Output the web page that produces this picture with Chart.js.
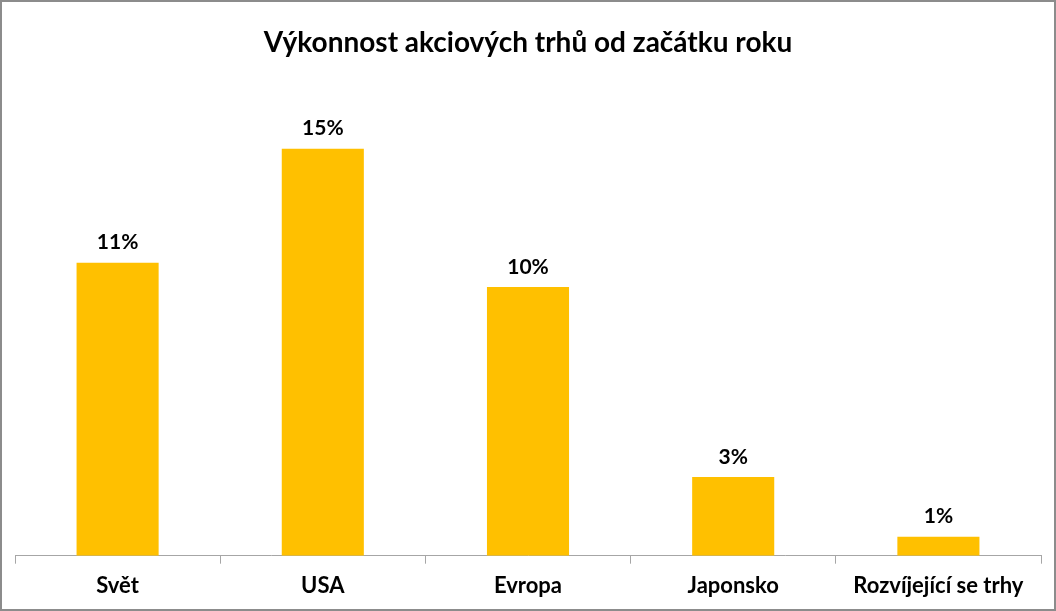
<!DOCTYPE html>
<html>
<head>
<meta charset="utf-8">
<script src="https://cdn.jsdelivr.net/npm/chart.js@4"></script>
<style>
    body { margin: 0; background: #fff; }
    #wrap {
        position: absolute; left: 0; top: 0;
        width: 1056px; height: 611px;
        box-sizing: border-box;
        border: 2px solid #8c8c8c;
        background: #fff;
    }
    #chart { display: block; }
</style>
</head>
<body>
<div id="wrap"><canvas id="chart" width="1052" height="607"></canvas></div>
<script>
const categories = ['Svět', 'USA', 'Evropa', 'Japonsko', 'Rozvíjející se trhy'];
const performance = [10.8, 15.0, 9.9, 2.9, 0.7];
const valueLabels = ['11%', '15%', '10%', '3%', '1%'];

const FONT = 'Lato, "Open Sans", "DejaVu Sans", sans-serif';

// popisky hodnot nad sloupci
const barLabels = {
    id: 'barLabels',
    afterDatasetsDraw(chart) {
        const ctx = chart.ctx;
        const meta = chart.getDatasetMeta(0);
        ctx.save();
        ctx.font = 'bold 21px ' + FONT;
        ctx.fillStyle = '#000';
        ctx.textAlign = 'center';
        ctx.textBaseline = 'middle';
        meta.data.forEach((bar, i) => {
            ctx.fillText(valueLabels[i], bar.x, bar.y - 20);
        });
        ctx.restore();
    }
};

new Chart(document.getElementById('chart').getContext('2d'), {
    type: 'bar',
    data: {
        labels: categories,
        datasets: [{
            data: performance,
            backgroundColor: '#FFC000',
            borderWidth: 0,
            categoryPercentage: 1,
            barPercentage: 0.4
        }]
    },
    options: {
        responsive: false,
        animation: false,
        layout: { padding: { left: 13, right: 13, top: 0, bottom: 0 } },
        plugins: {
            legend: { display: false },
            tooltip: { enabled: false },
            title: {
                display: true,
                text: 'Výkonnost akciových trhů od začátku roku',
                color: '#000',
                font: { family: FONT, size: 28, weight: 'bold' },
                padding: { top: 24, bottom: 62 }
            }
        },
        scales: {
            x: {
                offset: true,
                grid: {
                    offset: true,
                    drawOnChartArea: false,
                    tickLength: 8,
                    color: '#a6a6a6'
                },
                border: { color: '#a6a6a6', width: 1 },
                ticks: {
                    color: '#000',
                    padding: 10,
                    font: { family: FONT, size: 22, weight: 'bold', lineHeight: 1.15 }
                }
            },
            y: {
                display: false,
                min: 0,
                max: 16
            }
        }
    },
    plugins: [barLabels]
});
</script>
</body>
</html>
